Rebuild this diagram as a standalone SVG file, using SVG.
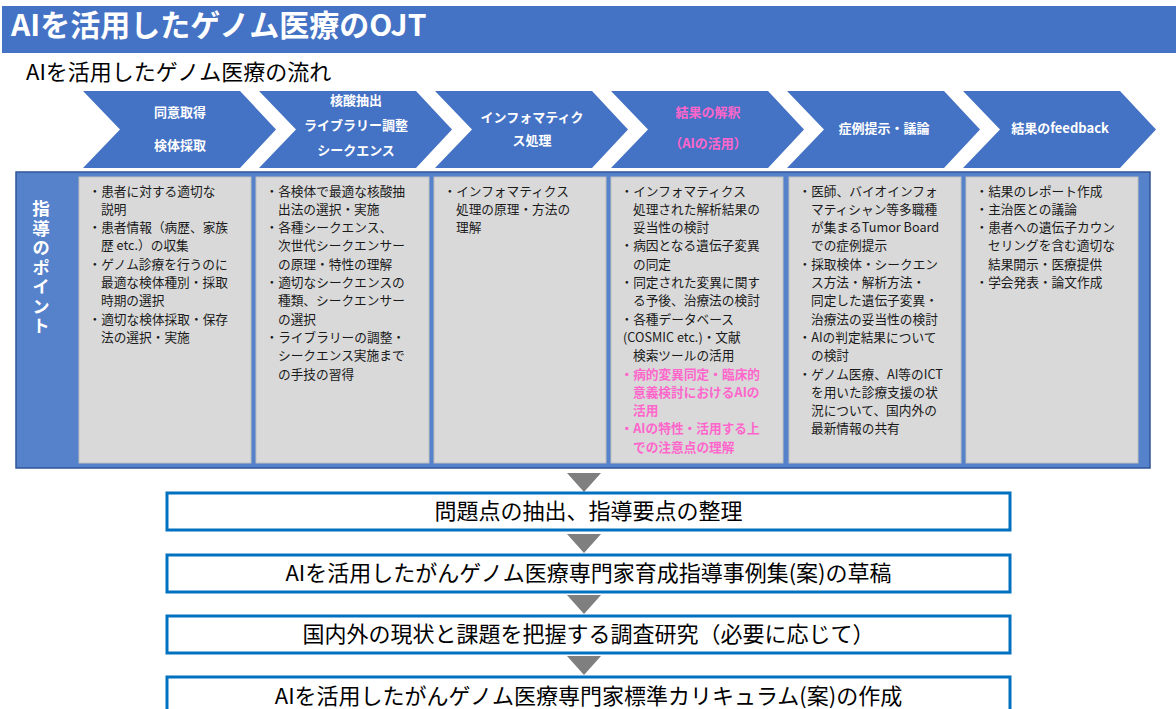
<svg xmlns="http://www.w3.org/2000/svg" width="1176" height="709" viewBox="0 0 1176 709">
<style>
text{font-family:"Noto Sans CJK JP","Noto Sans",sans-serif;}
.title{font-size:30px;font-weight:bold;fill:#fff;}
.sub{font-size:22px;fill:#000;}
.chev{fill:#4472C4;}
.ct{font-size:13px;font-weight:bold;fill:#fff;text-anchor:middle;}
.pk{fill:#FF66CC;}
.cell{fill:#D9D9D9;stroke:#BFBFBF;stroke-width:1;}
.tx{font-size:12.7px;fill:#1a1a1a;}
.tp{font-size:12.7px;font-weight:bold;fill:#FF66CC;}
.vl{font-size:17.5px;font-weight:bold;fill:#fff;writing-mode:vertical-rl;letter-spacing:2px;}
.box{fill:#fff;stroke:#0070C0;stroke-width:3;}
.bt{font-size:22px;fill:#000;text-anchor:middle;}
.arr{fill:#7F7F7F;}
</style>
<defs>
<polygon id="chevShape" points="0,91 157,91 193,129.5 157,168 0,168 37,129.5"/>
</defs>
<g id="header">
<rect x="2" y="6" width="1174" height="47" fill="#4472C4"/>
<text class="title" x="11" y="36">AIを活用したゲノム医療のOJT</text>
</g>
<g id="subtitle">
<text class="sub" x="26" y="80">AIを活用したゲノム医療の流れ</text>
</g>
<g id="chevron1">
<use href="#chevShape" class="chev" x="83"/>
<text class="ct" x="180" y="117">同意取得</text>
<text class="ct" x="180" y="150">検体採取</text>
</g>
<g id="chevron2">
<use href="#chevShape" class="chev" x="259"/>
<text class="ct" x="356" y="105">核酸抽出</text>
<text class="ct" x="356" y="130">ライブラリー調整</text>
<text class="ct" x="356" y="155">シークエンス</text>
</g>
<g id="chevron3">
<use href="#chevShape" class="chev" x="435"/>
<text class="ct" x="532" y="122">インフォマティク</text>
<text class="ct" x="532" y="145">ス処理</text>
</g>
<g id="chevron4">
<use href="#chevShape" class="chev" x="611"/>
<text class="ct pk" x="708" y="117">結果の解釈</text>
<text class="ct pk" x="708" y="148">（AIの活用）</text>
</g>
<g id="chevron5">
<use href="#chevShape" class="chev" x="787"/>
<text class="ct" x="884" y="133">症例提示・議論</text>
</g>
<g id="chevron6">
<use href="#chevShape" class="chev" x="963"/>
<text class="ct" x="1060" y="133">結果のfeedback</text>
</g>
<g id="panel">
<rect x="16" y="172" width="1134" height="296" fill="#5681CB" stroke="#2F5597" stroke-width="1.5"/>
<text class="vl" x="41" y="200">指導のポイント</text>
</g>
<g id="col1">
<rect class="cell" x="79" y="177" width="172" height="286"/>
<text class="tx"><tspan x="88.5" y="195.5">・患者に対する適切な</tspan><tspan x="101" y="213.8">説明</tspan><tspan x="88.5" y="232.1">・患者情報（病歴、家族</tspan><tspan x="101" y="250.4">歴 etc.）の収集</tspan><tspan x="88.5" y="268.7">・ゲノム診療を行うのに</tspan><tspan x="101" y="287">最適な検体種別・採取</tspan><tspan x="101" y="305.3">時期の選択</tspan><tspan x="88.5" y="323.6">・適切な検体採取・保存</tspan><tspan x="101" y="341.9">法の選択・実施</tspan></text>
</g>
<g id="col2">
<rect class="cell" x="256" y="177" width="173" height="286"/>
<text class="tx"><tspan x="265.5" y="195.5">・各検体で最適な核酸抽</tspan><tspan x="278" y="213.8">出法の選択・実施</tspan><tspan x="265.5" y="232.1">・各種シークエンス、</tspan><tspan x="278" y="250.4">次世代シークエンサー</tspan><tspan x="278" y="268.7">の原理・特性の理解</tspan><tspan x="265.5" y="287">・適切なシークエンスの</tspan><tspan x="278" y="305.3">種類、シークエンサー</tspan><tspan x="278" y="323.6">の選択</tspan><tspan x="265.5" y="341.9">・ライブラリーの調整・</tspan><tspan x="278" y="360.2">シークエンス実施まで</tspan><tspan x="278" y="378.5">の手技の習得</tspan></text>
</g>
<g id="col3">
<rect class="cell" x="434" y="177" width="172" height="286"/>
<text class="tx"><tspan x="443.5" y="195.5">・インフォマティクス</tspan><tspan x="456" y="213.8">処理の原理・方法の</tspan><tspan x="456" y="232.1">理解</tspan></text>
</g>
<g id="col4">
<rect class="cell" x="611" y="177" width="172" height="286"/>
<text class="tx"><tspan x="620.5" y="195.5">・インフォマティクス</tspan><tspan x="633" y="213.8">処理された解析結果の</tspan><tspan x="633" y="232.1">妥当性の検討</tspan><tspan x="620.5" y="250.4">・病因となる遺伝子変異</tspan><tspan x="633" y="268.7">の同定</tspan><tspan x="620.5" y="287">・同定された変異に関す</tspan><tspan x="633" y="305.3">る予後、治療法の検討</tspan><tspan x="620.5" y="323.6">・各種データベース</tspan><tspan x="623" y="341.9">(COSMIC etc.)・文献</tspan><tspan x="633" y="360.2">検索ツールの活用</tspan></text>
<text class="tp"><tspan x="620.5" y="378.5">・病的変異同定・臨床的</tspan><tspan x="633" y="396.8">意義検討におけるAIの</tspan><tspan x="633" y="415.1">活用</tspan><tspan x="620.5" y="433.4">・AIの特性・活用する上</tspan><tspan x="633" y="451.7">での注意点の理解</tspan></text>
</g>
<g id="col5">
<rect class="cell" x="789" y="177" width="172" height="286"/>
<text class="tx"><tspan x="798.5" y="195.5">・医師、バイオインフォ</tspan><tspan x="811" y="213.8">マティシャン等多職種</tspan><tspan x="811" y="232.1">が集まるTumor Board</tspan><tspan x="811" y="250.4">での症例提示</tspan><tspan x="798.5" y="268.7">・採取検体・シークエン</tspan><tspan x="811" y="287">ス方法・解析方法・</tspan><tspan x="811" y="305.3">同定した遺伝子変異・</tspan><tspan x="811" y="323.6">治療法の妥当性の検討</tspan><tspan x="798.5" y="341.9">・AIの判定結果について</tspan><tspan x="811" y="360.2">の検討</tspan><tspan x="798.5" y="378.5">・ゲノム医療、AI等のICT</tspan><tspan x="811" y="396.8">を用いた診療支援の状</tspan><tspan x="811" y="415.1">況について、国内外の</tspan><tspan x="811" y="433.4">最新情報の共有</tspan></text>
</g>
<g id="col6">
<rect class="cell" x="966" y="177" width="172" height="286"/>
<text class="tx"><tspan x="975.5" y="195.5">・結果のレポート作成</tspan><tspan x="975.5" y="213.8">・主治医との議論</tspan><tspan x="975.5" y="232.1">・患者への遺伝子カウン</tspan><tspan x="988" y="250.4">セリングを含む適切な</tspan><tspan x="988" y="268.7">結果開示・医療提供</tspan><tspan x="975.5" y="287">・学会発表・論文作成</tspan></text>
</g>
<g id="connectors">
<polygon class="arr" points="567,473 601,473 584,492"/>
<polygon class="arr" points="567,534 601,534 584,553"/>
<polygon class="arr" points="567,595 601,595 584,614"/>
<polygon class="arr" points="567,656 601,656 584,675"/>
</g>
<g id="step1">
<rect class="box" x="167" y="493" width="843" height="37"/>
<text class="bt" x="588.5" y="518.5">問題点の抽出、指導要点の整理</text>
</g>
<g id="step2">
<rect class="box" x="167" y="555" width="843" height="37"/>
<text class="bt" x="588.5" y="581">AIを活用したがんゲノム医療専門家育成指導事例集(案)の草稿</text>
</g>
<g id="step3">
<rect class="box" x="167" y="616" width="843" height="37"/>
<text class="bt" x="588.5" y="641.5">国内外の現状と課題を把握する調査研究（必要に応じて）</text>
</g>
<g id="step4">
<rect class="box" x="167" y="677" width="843" height="40"/>
<text class="bt" x="588.5" y="704">AIを活用したがんゲノム医療専門家標準カリキュラム(案)の作成</text>
</g>
</svg>
